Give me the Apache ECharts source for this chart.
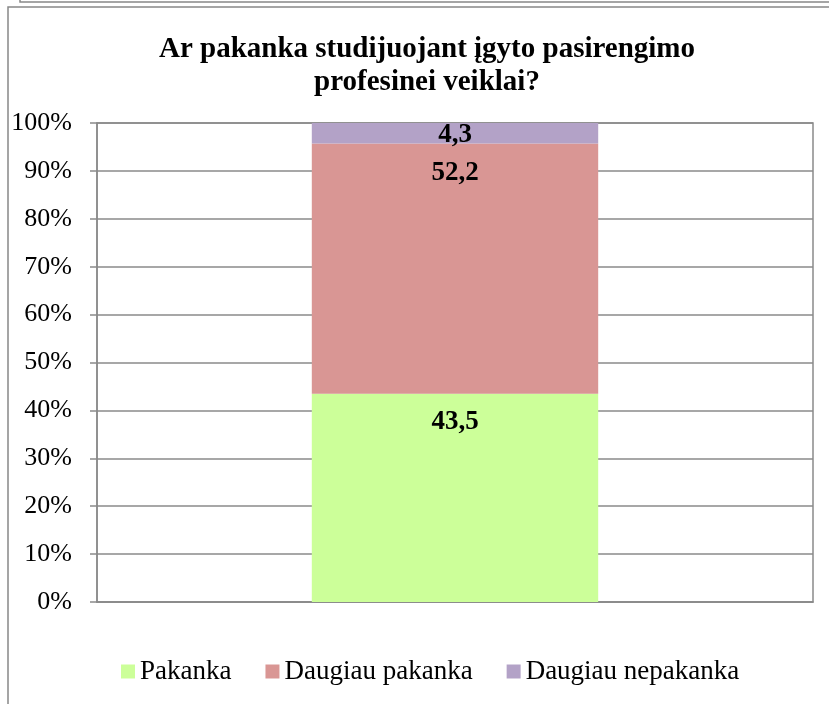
<!DOCTYPE html>
<html>
<head>
<meta charset="utf-8">
<script src="https://cdn.jsdelivr.net/npm/echarts@6/dist/echarts.min.js"></script>
<style>
  html, body { margin: 0; padding: 0; background: #fff; }
  #main { width: 829px; height: 704px; }
</style>
</head>
<body>
<div id="main"></div>
<script>
// duomenys
const categories = [''];
const seriesNames = ['Pakanka', 'Daugiau pakanka', 'Daugiau nepakanka'];
const pakanka = [43.5];
const daugiauPakanka = [52.2];
const daugiauNepakanka = [4.3];
const colors = ['#CCFF99', '#D99694', '#B3A2C7'];

const chart = echarts.init(document.getElementById('main'));
const serif = '"Liberation Serif", "Times New Roman", serif';

// etiketes su kableliu
function labelFmt(p) {
  return String(p.value).replace('.', ',');
}

function makeSeries(name, data, color, dist) {
  return {
    name: name,
    type: 'bar',
    stack: 'total',
    barWidth: '40%',
    data: data,
    itemStyle: { color: color },
    label: {
      show: true,
      position: 'insideTop',
      distance: dist,
      formatter: labelFmt,
      fontFamily: serif,
      fontWeight: 'bold',
      fontSize: 27,
      color: '#000'
    }
  };
}

chart.setOption({
  animation: false,
  title: {
    text: 'Ar pakanka studijuojant įgyto pasirengimo\nprofesinei veiklai?',
    left: 422,
    top: 28,
    textAlign: 'center',
    textStyle: {
      fontFamily: serif,
      fontWeight: 'bold',
      fontSize: 29,
      lineHeight: 33,
      color: '#000'
    }
  },
  graphic: [
    { type: 'rect', shape: { x: 20, y: -60, width: 900, height: 62 },
      style: { fill: 'none', stroke: '#888', lineWidth: 1.5 } },
    { type: 'rect', shape: { x: 8, y: 7, width: 900, height: 800 },
      style: { fill: 'none', stroke: '#888', lineWidth: 1.5 } }
  ],
  legend: {
    bottom: 14,
    left: 116,
    itemWidth: 14,
    itemHeight: 14,
    itemGap: 34,
    icon: 'rect',
    data: seriesNames,
    textStyle: { fontFamily: serif, fontSize: 27, color: '#000', padding: [0, 0, 0, 0] }
  },
  grid: {
    left: 97, right: 16, top: 123, bottom: 102,
    show: true,
    borderColor: '#8a8a8a',
    borderWidth: 1.5
  },
  xAxis: {
    type: 'category',
    data: categories,
    axisLine: { lineStyle: { color: '#8a8a8a', width: 1.5 } },
    axisTick: { show: false },
    axisLabel: { show: false }
  },
  yAxis: {
    type: 'value',
    min: 0,
    max: 100,
    interval: 10,
    axisLine: { show: true, lineStyle: { color: '#8a8a8a', width: 1.5 } },
    axisTick: { show: true, length: 7, lineStyle: { color: '#8a8a8a', width: 1.5 } },
    splitLine: { lineStyle: { color: '#8a8a8a', width: 1.5 } },
    axisLabel: {
      formatter: '{value}%',
      margin: 25,
      fontFamily: serif,
      fontSize: 26,
      color: '#000'
    }
  },
  series: [
    makeSeries(seriesNames[0], pakanka, colors[0], 15),
    makeSeries(seriesNames[1], daugiauPakanka, colors[1], 16),
    makeSeries(seriesNames[2], daugiauNepakanka, colors[2], -1)
  ]
});
</script>
</body>
</html>
